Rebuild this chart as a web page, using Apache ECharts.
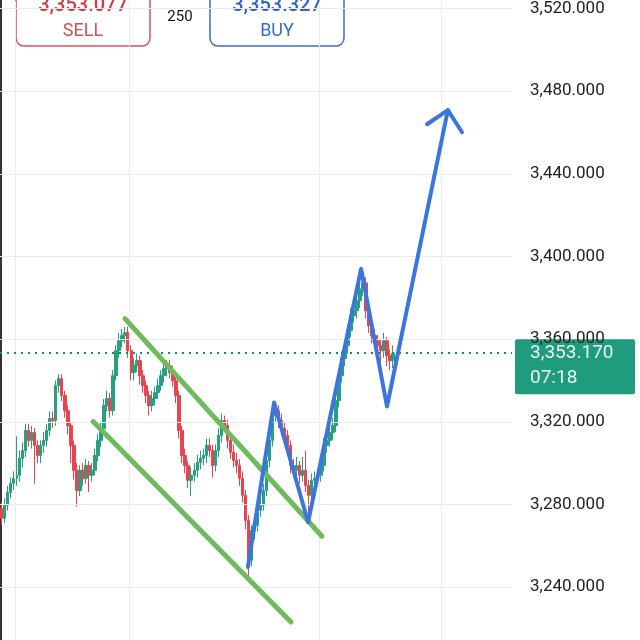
<!DOCTYPE html>
<html><head><meta charset="utf-8">
<script src="https://cdn.jsdelivr.net/npm/echarts@6/dist/echarts.min.js"></script>
<style>html,body{margin:0;padding:0;background:#fff;}#c{width:640px;height:640px;}</style>
</head><body><div id="c"></div>
<script>
// ---- data ----
const opens = [3278.0,3273.3,3279.6,3285.9,3290.2,3292.6,3294.1,3302.3,3306.1,3315.8,3311.0,3314.8,3308.6,3303.7,3308.6,3311.0,3315.8,3321.6,3320.6,3337.5,3340.9,3332.7,3325.4,3318.2,3308.6,3296.5,3286.8,3296.5,3292.6,3298.9,3294.1,3296.5,3303.7,3311.0,3316.8,3327.9,3331.2,3325.4,3342.3,3354.4,3359.2,3361.7,3363.1,3354.4,3343.8,3347.2,3349.6,3342.3,3337.5,3332.7,3327.9,3331.2,3334.1,3337.5,3342.3,3345.7,3347.2,3343.8,3339.9,3332.7,3315.8,3303.7,3298.9,3291.7,3294.1,3296.5,3300.3,3302.3,3303.7,3308.6,3306.1,3298.9,3306.1,3313.4,3320.6,3318.2,3311.0,3305.2,3301.3,3298.9,3292.6,3284.4,3272.3,3253.0,3267.5,3269.9,3277.2,3279.6,3286.8,3301.3,3311.0,3323.0,3325.4,3320.6,3316.8,3313.4,3308.6,3298.9,3296.5,3298.9,3294.1,3296.5,3289.2,3284.4,3291.7,3292.6,3294.1,3298.9,3308.6,3311.0,3314.8,3318.2,3330.3,3342.3,3350.6,3356.8,3364.1,3371.3,3373.7,3378.6,3384.3,3387.2,3373.7,3366.5,3361.7,3359.2,3356.8,3354.4,3359.2,3352.0,3349.6];
const closes = [3273.3,3279.6,3285.9,3290.2,3292.6,3294.1,3302.3,3306.1,3315.8,3311.0,3314.8,3308.6,3303.7,3308.6,3311.0,3315.8,3321.6,3320.6,3337.5,3340.9,3332.7,3325.4,3318.2,3308.6,3296.5,3286.8,3296.5,3292.6,3298.9,3294.1,3296.5,3303.7,3311.0,3316.8,3327.9,3331.2,3325.4,3342.3,3354.4,3359.2,3361.7,3363.1,3354.4,3343.8,3347.2,3349.6,3342.3,3337.5,3332.7,3327.9,3331.2,3334.1,3337.5,3342.3,3345.7,3347.2,3343.8,3339.9,3332.7,3315.8,3303.7,3298.9,3291.7,3294.1,3296.5,3300.3,3302.3,3303.7,3308.6,3306.1,3298.9,3306.1,3313.4,3320.6,3318.2,3311.0,3305.2,3301.3,3298.9,3292.6,3284.4,3272.3,3253.0,3267.5,3269.9,3277.2,3279.6,3286.8,3301.3,3311.0,3323.0,3325.4,3320.6,3316.8,3313.4,3308.6,3298.9,3296.5,3298.9,3294.1,3296.5,3289.2,3284.4,3291.7,3292.6,3294.1,3298.9,3308.6,3311.0,3314.8,3318.2,3330.3,3342.3,3350.6,3356.8,3364.1,3371.3,3373.7,3378.6,3384.3,3387.2,3373.7,3366.5,3361.7,3359.2,3356.8,3354.4,3359.2,3352.0,3349.6,3353.17];
const highs = [3281,3283,3289,3293,3296,3313,3306,3310,3319,3319,3318,3317,3311,3311,3315,3319,3325,3325,3340,3343,3343,3335,3328,3320,3311,3300,3299,3300,3302,3301,3300,3307,3314,3320,3331,3335,3334,3345,3357,3363,3365,3366,3366,3357,3351,3353,3352,3345,3340,3335,3335,3337,3341,3345,3349,3350,3350,3347,3342,3335,3318,3307,3301,3298,3300,3304,3306,3307,3312,3312,3309,3309,3317,3324,3323,3321,3314,3309,3305,3302,3296,3287,3275,3270,3274,3281,3284,3290,3304,3315,3327,3329,3328,3324,3320,3316,3311,3302,3303,3301,3303,3306,3292,3295,3296,3297,3302,3312,3315,3318,3322,3333,3345,3354,3360,3367,3375,3377,3382,3388,3393,3390,3376,3369,3365,3362,3360,3363,3361,3355,3357];
const lows = [3270,3271,3277,3283,3287,3289,3291,3298,3303,3308,3307,3290,3300,3300,3305,3308,3313,3317,3318,3334,3330,3322,3314,3300,3292,3279,3284,3289,3290,3286,3291,3294,3301,3308,3314,3325,3322,3323,3340,3351,3356,3358,3351,3340,3340,3344,3338,3334,3329,3323,3325,3328,3331,3335,3339,3342,3341,3337,3329,3312,3300,3295,3288,3284,3291,3293,3297,3299,3300,3303,3293,3296,3303,3310,3315,3307,3302,3298,3295,3289,3281,3268,3245,3250,3263,3267,3274,3277,3284,3298,3308,3320,3317,3313,3310,3305,3295,3293,3293,3290,3291,3286,3272,3281,3288,3290,3291,3296,3305,3308,3311,3315,3327,3339,3347,3353,3361,3368,3370,3375,3381,3370,3363,3358,3355,3352,3348,3351,3347,3345,3346];
const lastPrice = 3353.17;
const lastTime = "07:18";
const yTicks = [3240, 3280, 3320, 3360, 3400, 3440, 3480, 3520];
const yMin = 3214.4, yMax = 3523.4;
const vGridSlots = [5, 43, 106, 146.5];
const slotCount = 170;
// annotation lines [x in candle slots, price]
const channelUpper = [[41.5, 3369.9], [106.9, 3264.6]];
const channelLower = [[30.9, 3320.1], [96.6, 3223.1]];
const zigzag = [[82.3, 3249.7], [91.0, 3329.3], [102.3, 3271.4], [119.9, 3394.0], [128.5, 3327.4], [148.7, 3470.8]];
const arrowHead = [[141.8, 3464.0], [148.7, 3470.8], [153.4, 3460.1]];
const sellPrice = "3,353.077", buyPrice = "3,353.327", lotText = "250";

const categories = Array.from({length: slotCount}, (_, i) => String(i));
const ohlc = closes.map((c, i) => [opens[i], c, lows[i], highs[i]]);

const fmt = v => v.toLocaleString('en-US', {minimumFractionDigits: 3, maximumFractionDigits: 3});

const chart = echarts.init(document.getElementById('c'), null, {renderer: 'canvas'});
const green = '#6dbb5c', blue = '#3a76db';
const lineS = (data, color, w) => ({
  type: 'line', xAxisIndex: 1, yAxisIndex: 0, data, symbol: 'none', silent: true, z: 5,
  lineStyle: {color, width: w, cap: 'round', join: 'round'}, animation: false
});
chart.setOption({
  animation: false,
  grid: {left: 0, right: 128, top: 0, bottom: 0, containLabel: false},
  xAxis: [{
    type: 'category', data: categories, boundaryGap: true,
    axisLine: {show: false}, axisTick: {show: false}, axisLabel: {show: false},
    splitLine: {show: false}
  }, {
    type: 'value', min: 0, max: slotCount, show: false
  }],
  yAxis: {
    type: 'value', position: 'right', min: yMin, max: yMax,
    axisLine: {show: false}, axisTick: {show: false, customValues: yTicks},
    splitLine: {show: false},
    axisLabel: {
      margin: 18, color: '#222', fontFamily: 'Roboto', fontSize: 17,
      customValues: yTicks, formatter: v => fmt(v)
    }
  },
  series: [{
    type: 'line', xAxisIndex: 1, data: [], silent: true, z: 1,
    markLine: {
      symbol: 'none', silent: true, label: {show: false},
      lineStyle: {color: '#ececec', type: 'solid', width: 1},
      data: yTicks.map(v => ({yAxis: v})).concat(vGridSlots.map(v => ({xAxis: v})))
    }
  }, {
    type: 'candlestick', data: ohlc, barWidth: 3, z: 3,
    itemStyle: {color: '#26a17f', color0: '#e8434f', borderColor: '#26a17f', borderColor0: '#e8434f', borderWidth: 1},
    markLine: {
      symbol: 'none', silent: true, label: {show: false},
      lineStyle: {color: '#1b8a6b', type: [2, 5], width: 2},
      data: [{yAxis: lastPrice}]
    }
  },
  lineS(channelUpper, green, 5), lineS(channelLower, green, 5),
  lineS(zigzag, blue, 4), lineS(arrowHead, blue, 4)]
});

const ly = chart.convertToPixel({yAxisIndex: 0}, lastPrice);
chart.setOption({
  graphic: [
    {type: 'rect', shape: {x: 0, y: 0, width: 2, height: 640}, style: {fill: '#333'}},
    {type: 'rect', shape: {x: 515, y: ly - 14, width: 120, height: 55, r: 2}, style: {fill: '#1f9b7d'}},
    {type: 'text', x: 530, y: ly, style: {text: fmt(lastPrice), fill: '#eaf7f2', font: '19px Roboto', verticalAlign: 'middle'}},
    {type: 'text', x: 530, y: ly + 25, style: {text: lastTime, fill: '#eaf7f2', font: '19px Roboto', verticalAlign: 'middle'}},
    {type: 'rect', shape: {x: 16, y: -12, width: 134, height: 58, r: 8}, style: {fill: '#fff', stroke: '#d9505b', lineWidth: 1.5}},
    {type: 'text', x: 83, y: 6, style: {text: sellPrice, fill: '#d63a47', font: '500 20px Roboto', align: 'center', verticalAlign: 'middle'}},
    {type: 'text', x: 83, y: 31, style: {text: 'SELL', fill: '#d9505b', font: '18px Roboto', align: 'center', verticalAlign: 'middle'}},
    {type: 'text', x: 180, y: 17, style: {text: lotText, fill: '#111', font: '15px Roboto', align: 'center', verticalAlign: 'middle'}},
    {type: 'rect', shape: {x: 210, y: -12, width: 134, height: 58, r: 8}, style: {fill: '#fff', stroke: '#3c6cc6', lineWidth: 1.5}},
    {type: 'text', x: 277, y: 6, style: {text: buyPrice, fill: '#2f62c8', font: '500 20px Roboto', align: 'center', verticalAlign: 'middle'}},
    {type: 'text', x: 277, y: 31, style: {text: 'BUY', fill: '#3c6cc6', font: '18px Roboto', align: 'center', verticalAlign: 'middle'}}
  ]
});
</script>
</body></html>
